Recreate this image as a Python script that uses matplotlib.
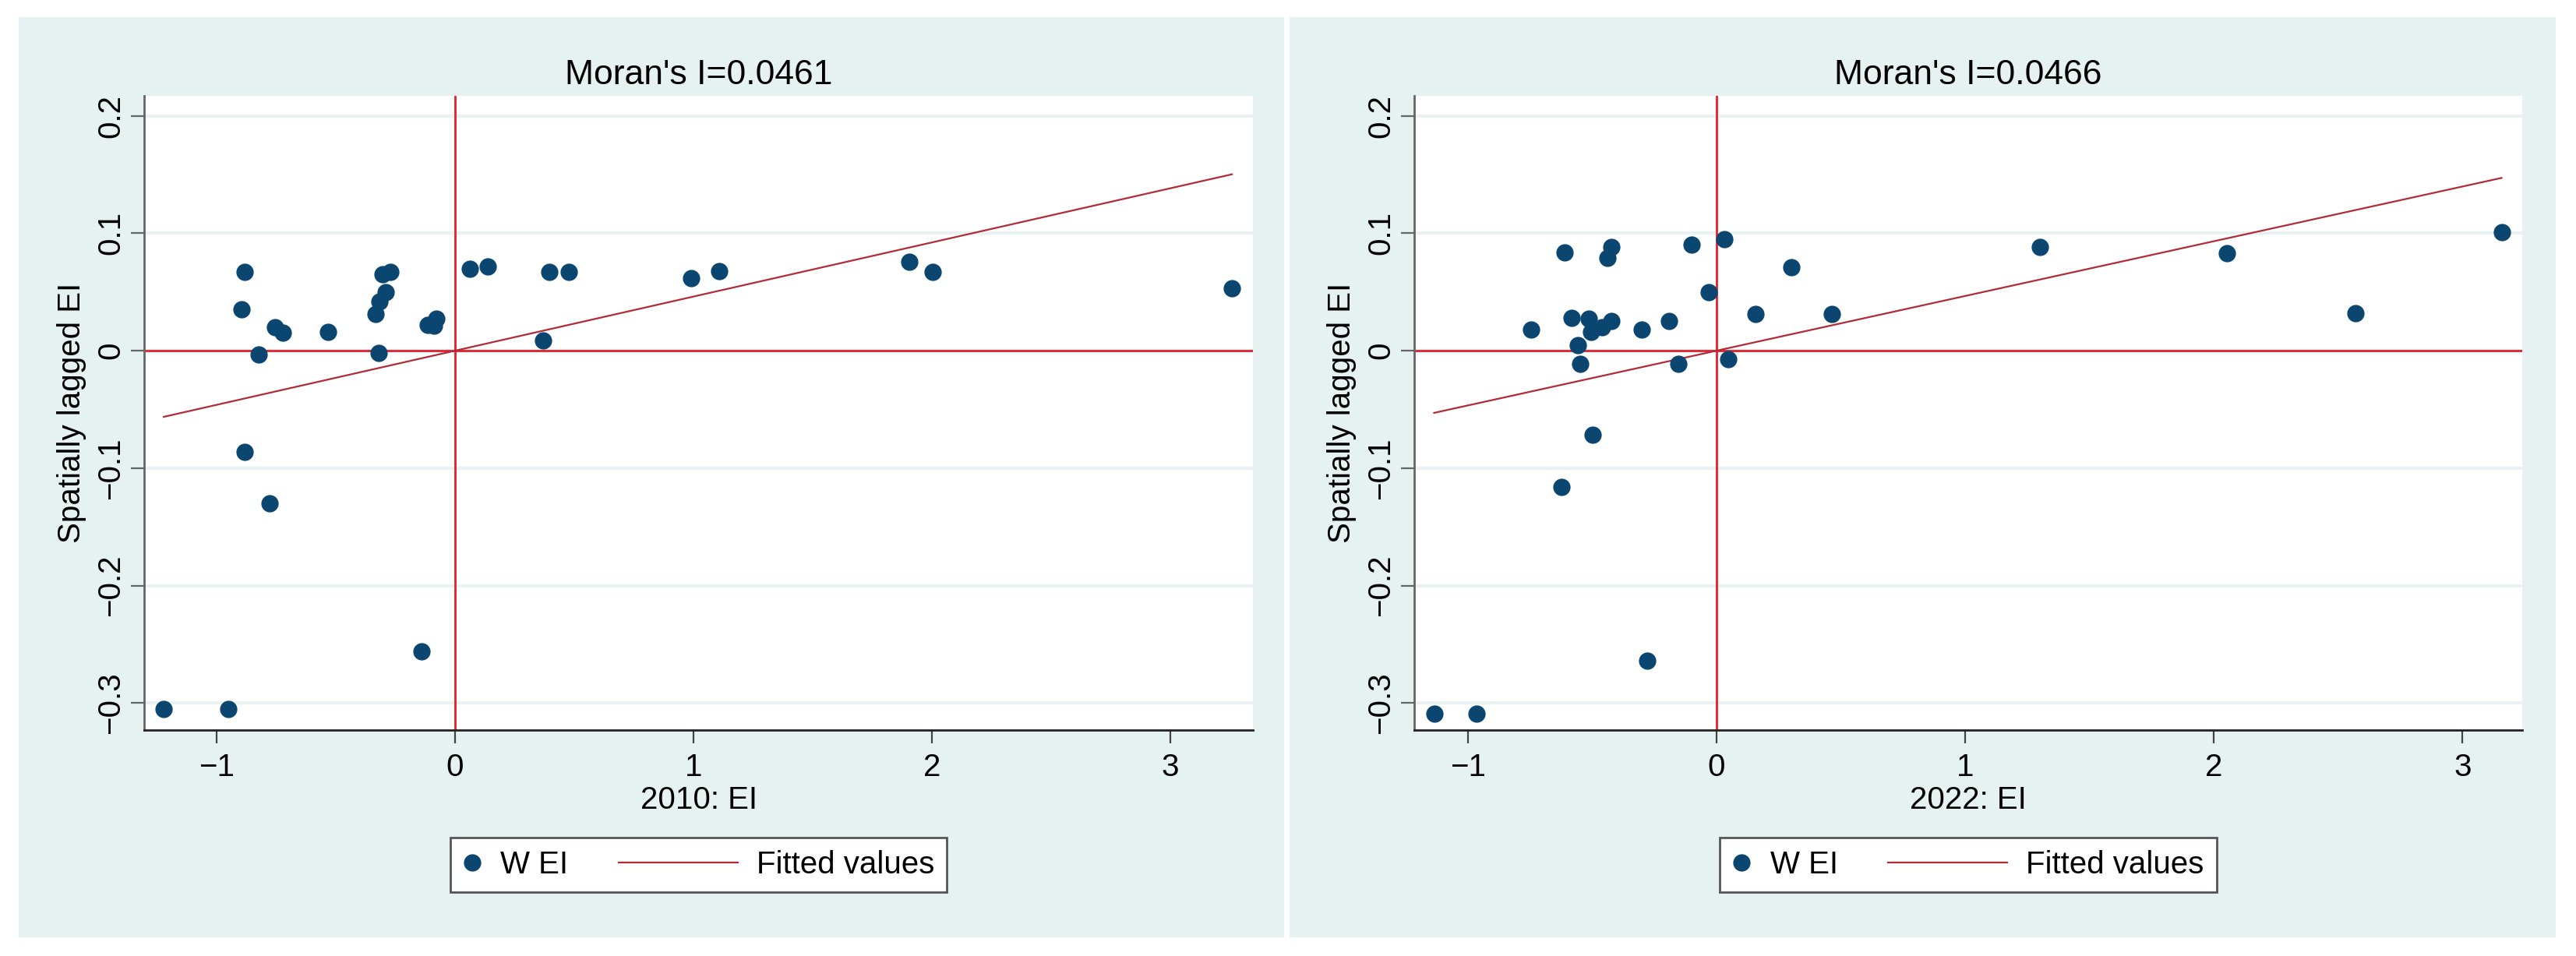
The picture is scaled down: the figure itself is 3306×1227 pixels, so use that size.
# Moran scatter plots of EI for 2010 and 2022 (Stata s2color look).

import numpy
import matplotlib.pyplot as plt
from matplotlib.patches import Rectangle
from matplotlib.legend_handler import HandlerLine2D

plt.rcParams['font.family'] = ['Liberation Sans', 'DejaVu Sans']

# standardized EI and its spatial lag, one point per province
ei_2010 = [-1.222, -0.951, -0.882, -0.894, -0.884, -0.779, -0.823, -0.756,
           -0.721, -0.534, -0.332, -0.319, -0.317, -0.290, -0.304, -0.271,
           -0.141, -0.115, -0.090, -0.078, 0.061, 0.138, 0.368, 0.396,
           0.478, 0.989, 1.107, 1.906, 2.004, 3.258]
wei_2010 = [-0.305, -0.305, 0.067, 0.035, -0.086, -0.130, -0.003, 0.020,
            0.015, 0.016, 0.031, -0.002, 0.042, 0.050, 0.065, 0.067,
            -0.256, 0.022, 0.021, 0.027, 0.070, 0.0715, 0.009, 0.067,
            0.067, 0.062, 0.068, 0.076, 0.067, 0.053]

ei_2022 = [-1.136, -0.964, -0.746, -0.611, -0.623, -0.584, -0.559, -0.549,
           -0.515, -0.505, -0.498, -0.461, -0.424, -0.439, -0.424, -0.302,
           -0.280, -0.191, -0.155, -0.101, -0.032, 0.032, 0.047, 0.157,
           0.302, 0.464, 1.300, 2.052, 2.569, 3.157]
wei_2022 = [-0.309, -0.309, 0.018, 0.0835, -0.116, 0.028, 0.005, -0.0115,
            0.027, 0.016, -0.0715, 0.020, 0.025, 0.079, 0.088, 0.018,
            -0.264, 0.025, -0.0115, 0.090, 0.050, 0.095, -0.007, 0.031,
            0.071, 0.031, 0.088, 0.083, 0.032, 0.101]

years = ['2010', '2022']
moran_i = [0.0461, 0.0466]

xticks = [-1, 0, 1, 2, 3]
xtick_labels = ['\u22121', '0', '1', '2', '3']
yticks = [-0.3, -0.2, -0.1, 0, 0.1, 0.2]
ytick_labels = ['\u22120.3', '\u22120.2', '\u22120.1', '0', '0.1', '0.2']

NAVY = '#0a4670'
MAROON = '#b02c37'
RED = '#e41e2b'
BG = '#e6f1f2'
GRID = '#e9f2f3'


class DotHandler(HandlerLine2D):
    """Legend handler with a narrow handle box for the marker entry."""
    def legend_artist(self, legend, orig_handle, fontsize, handlebox):
        handlebox.width = 0.6 * fontsize
        return HandlerLine2D.legend_artist(self, legend, orig_handle,
                                           fontsize, handlebox)


def plot_moran(ax, ei, wei, moran, year, xlim):
    """Draws one Moran scatter plot with fitted line and legend."""
    ei = numpy.array(ei)
    wei = numpy.array(wei)

    ax.axhline(0, color=RED, lw=2, zorder=2)
    ax.axvline(0, color=RED, lw=2, zorder=2)

    # fitted line: slope is Moran's I, over the range of the data
    xs = numpy.array([ei.min(), ei.max()])
    line, = ax.plot(xs, moran * xs, color=MAROON, lw=1.6, zorder=3,
                    label='Fitted values')
    dots, = ax.plot(ei, wei, 'o', color=NAVY, ms=16, mew=0, zorder=4,
                    label='W EI')

    ax.set_xlim(xlim)
    ax.set_ylim(-0.323, 0.217)
    ax.set_xticks(xticks)
    ax.set_xticklabels(xtick_labels)
    ax.set_yticks(yticks)
    ax.set_yticklabels(ytick_labels, rotation=90, va='center')
    ax.grid(axis='y', color=GRID, lw=3)
    ax.set_axisbelow(True)

    for side in ['top', 'right']:
        ax.spines[side].set_visible(False)
    ax.spines['left'].set_color('#666666')
    ax.spines['left'].set_linewidth(2)
    ax.spines['bottom'].set_color('#222222')
    ax.spines['bottom'].set_linewidth(2)
    ax.tick_params(axis='x', length=12, width=1.6, color='#444444',
                   labelsize=29, pad=9)
    ax.tick_params(axis='y', length=12, width=1.6, color='#666666',
                   labelsize=29, pad=5)

    ax.set_title("Moran's I=%s" % moran, fontsize=32, y=1.0326, pad=0,
                 va='center')
    ax.set_xlabel('%s: EI' % year, fontsize=29, va='center')
    ax.xaxis.set_label_coords(0.5, -0.1106)
    ax.set_ylabel('Spatially lagged EI', fontsize=29, va='center')
    ax.yaxis.set_label_coords(-0.0654, 0.5)

    leg = ax.legend(handles=[dots, line], ncol=2, loc='center',
                    bbox_to_anchor=(0.5, -0.2125), fontsize=29,
                    handlelength=3.8, handletextpad=0.6, columnspacing=1.6,
                    borderpad=0.4, fancybox=False, framealpha=1,
                    edgecolor='#555555', handler_map={dots: DotHandler()})
    leg.get_frame().set_linewidth(2)


fig = plt.figure(figsize=(33.06, 12.27), dpi=100)

# light graph-region panels behind each plot
for x0 in [0.00711, 0.50060]:
    fig.add_artist(Rectangle((x0, 0.01956), 0.4914, 0.96251,
                             transform=fig.transFigure, facecolor=BG,
                             edgecolor='none', zorder=-1))

ax1 = fig.add_axes([0.05596, 0.23635, 0.43043, 0.66341])
ax2 = fig.add_axes([0.54900, 0.23635, 0.43013, 0.66341])

plot_moran(ax1, ei_2010, wei_2010, moran_i[0], years[0], (-1.304, 3.346))
plot_moran(ax2, ei_2022, wei_2022, moran_i[1], years[1], (-1.216, 3.24))

fig.savefig('out.png', dpi=100, facecolor='white')
